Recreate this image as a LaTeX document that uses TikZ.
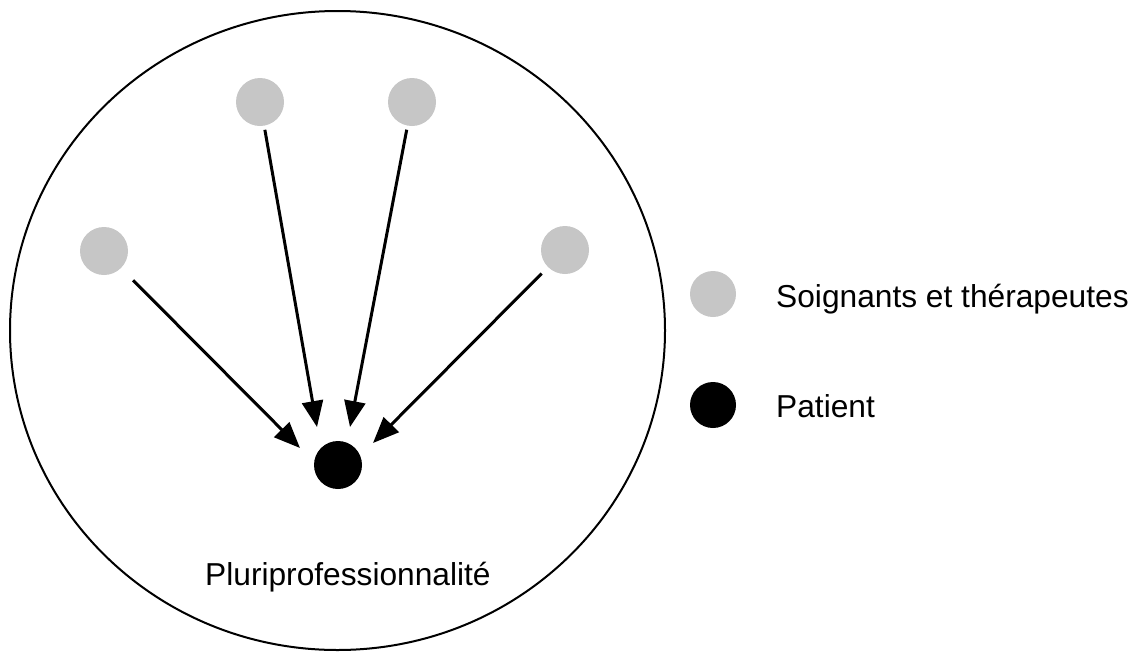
\documentclass[tikz,border=0pt]{standalone}
\usepackage{fontspec}
\setmainfont{Liberation Sans}
\usetikzlibrary{arrows.meta}
\definecolor{soin}{RGB}{198,198,198}
\tikzset{
  soinnode/.style={circle,fill=soin,draw=none,minimum size=48pt,inner sep=0pt},
  patnode/.style={circle,fill=black,draw=none,minimum size=48pt,inner sep=0pt},
  legsoin/.style={circle,fill=soin,draw=none,minimum size=46pt,inner sep=0pt},
  legpat/.style={circle,fill=black,draw=none,minimum size=46pt,inner sep=0pt},
  arr/.style={line width=3pt,-{Triangle[length=26pt,width=21pt]}},
  lbl/.style={inner sep=0pt,anchor=base west,font=\fontsize{31.7}{38}\selectfont}
}
\begin{document}
\begin{tikzpicture}[x=1pt,y=-1pt]
\useasboundingbox (0,0) rectangle (1135,651);
\draw[line width=2pt] (337.5,330.5) ellipse [x radius=327.5, y radius=319.5];
\node[soinnode] (g1) at (260,102) {};
\node[soinnode] (g2) at (412,102) {};
\node[soinnode] (g3) at (104,251) {};
\node[soinnode] (g4) at (565,250) {};
\node[patnode] (p) at (338,465) {};
\coordinate (t1) at (317,427);
\coordinate (t2) at (350,427);
\coordinate (t3) at (300,448);
\coordinate (t4) at (373,443);
\draw[arr,shorten <=4pt] (g1) -- (t1);
\draw[arr,shorten <=4pt] (g2) -- (t2);
\draw[arr,shorten <=17pt] (g3) -- (t3);
\draw[arr,shorten <=9pt] (g4) -- (t4);
\node[lbl] (plur) at (205,585) {Pluriprofessionnalité};
\node[legsoin] (ls) at (713,294) {};
\node[legpat] (lp) at (713,405) {};
\node[lbl] (lst) at (776,307) {Soignants et thérapeutes};
\node[lbl] (lpt) at (776,417) {Patient};
\end{tikzpicture}
\end{document}
